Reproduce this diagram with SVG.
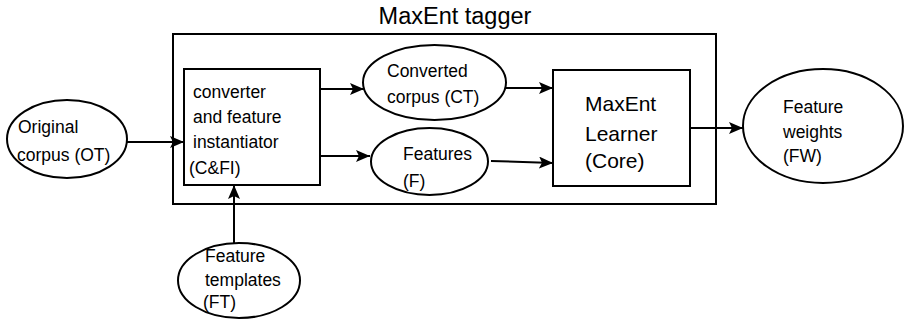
<svg xmlns="http://www.w3.org/2000/svg" width="906" height="325" viewBox="0 0 906 325">
<style>
.s{fill:#fff;stroke:#000;stroke-width:2}
.t{font-family:"Liberation Sans",Arial,sans-serif;font-size:17.5px;fill:#000}
.b{font-size:21px}
.c{stroke:#000;stroke-width:2;fill:none;marker-end:url(#ah)}
</style>
<defs>
<marker id="ah" markerUnits="userSpaceOnUse" viewBox="0 0 14 12" refX="14" refY="6" markerWidth="14" markerHeight="12" orient="auto">
<path d="M0,0 L14,6 L0,12 L3,6 z" fill="#000"/>
</marker>
</defs>
<g id="tagger">
<rect class="s" x="173" y="34" width="543" height="170" fill="none"/>
<text class="t" x="455" y="24" text-anchor="middle" style="font-size:23.5px">MaxEnt tagger</text>
</g>
<g id="connectors">
<line class="c" x1="127" y1="142" x2="184" y2="142"/>
<line class="c" x1="320" y1="89" x2="364" y2="89"/>
<line class="c" x1="321" y1="156" x2="370" y2="156"/>
<line class="c" x1="506" y1="88" x2="553" y2="88"/>
<line class="c" x1="491" y1="161" x2="553" y2="163"/>
<line class="c" x1="690" y1="128" x2="743" y2="128"/>
<line class="c" x1="234" y1="243" x2="234" y2="185"/>
</g>
<g id="OT">
<ellipse class="s" cx="67" cy="139" rx="60" ry="39"/>
<text class="t" x="18" y="133">Original</text>
<text class="t" x="17" y="161">corpus (OT)</text>
</g>
<g id="CFI">
<rect class="s" x="184" y="69" width="136" height="116"/>
<text class="t" x="193" y="98">converter</text>
<text class="t" x="193" y="123">and feature</text>
<text class="t" x="193" y="148">instantiator</text>
<text class="t" x="189" y="174">(C&amp;FI)</text>
</g>
<g id="CT">
<ellipse class="s" cx="434.5" cy="82.5" rx="71.5" ry="37.5"/>
<text class="t" x="387" y="77">Converted</text>
<text class="t" x="387" y="103">corpus (CT)</text>
</g>
<g id="F">
<ellipse class="s" cx="429.5" cy="161.5" rx="58.5" ry="33.5"/>
<text class="t" x="403" y="160">Features</text>
<text class="t" x="403" y="187">(F)</text>
</g>
<g id="Core">
<rect class="s" x="553" y="70" width="137" height="116"/>
<text class="t b" x="585" y="111">MaxEnt</text>
<text class="t b" x="585" y="141">Learner</text>
<text class="t b" x="585" y="168">(Core)</text>
</g>
<g id="FW">
<ellipse class="s" cx="823" cy="126" rx="80" ry="57"/>
<text class="t" x="783" y="113">Feature</text>
<text class="t" x="783" y="138">weights</text>
<text class="t" x="783" y="162">(FW)</text>
</g>
<g id="FT">
<ellipse class="s" cx="239" cy="280.5" rx="61" ry="37.5"/>
<text class="t" x="205" y="262">Feature</text>
<text class="t" x="205" y="286">templates</text>
<text class="t" x="203" y="308">(FT)</text>
</g>
</svg>
